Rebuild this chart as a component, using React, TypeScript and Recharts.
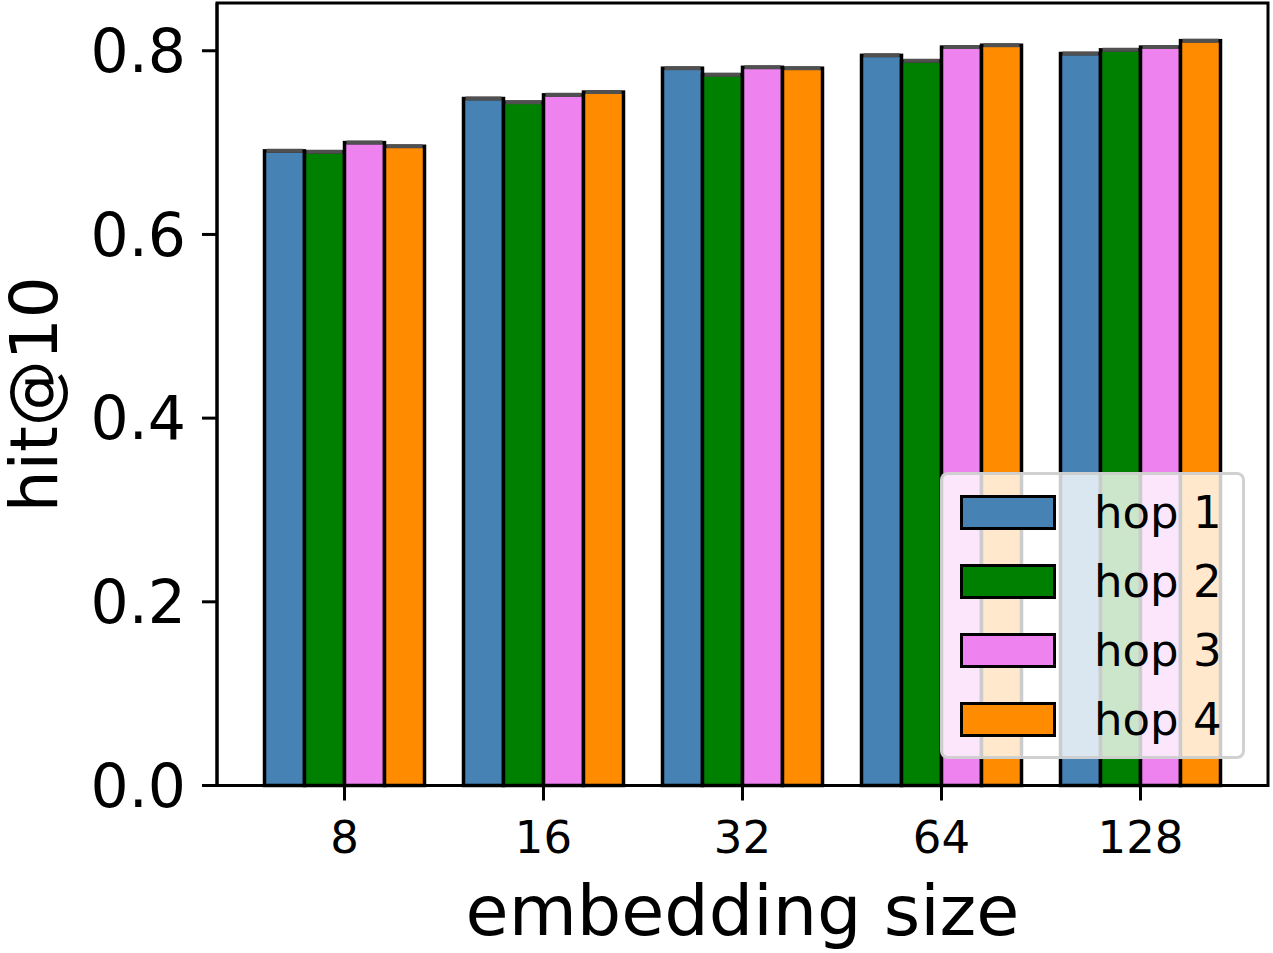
import React from 'react';
import * as Recharts from 'recharts';
import { BarChart, Bar, XAxis, YAxis } from 'recharts';

const sizes = ['8', '16', '32', '64', '128'];
const hop1 = [0.691, 0.748, 0.781, 0.795, 0.797];
const hop2 = [0.690, 0.744, 0.774, 0.789, 0.801];
const hop3 = [0.700, 0.752, 0.782, 0.804, 0.804];
const hop4 = [0.696, 0.755, 0.781, 0.806, 0.811];
const yTicks = [0, 0.2, 0.4, 0.6, 0.8];

const series = [
  { key: 'hop1', name: 'hop 1', color: '#4682B4' },
  { key: 'hop2', name: 'hop 2', color: '#008000' },
  { key: 'hop3', name: 'hop 3', color: '#EE82EE' },
  { key: 'hop4', name: 'hop 4', color: '#FF8C00' },
];

const data = sizes.map((size, i) => ({
  size,
  hop1: hop1[i],
  hop2: hop2[i],
  hop3: hop3[i],
  hop4: hop4[i],
}));

const FONT = '"DejaVu Sans", sans-serif';

const usePlotArea: any = (Recharts as any).usePlotArea;

// box around the plotting area
const Frame = () => {
  const p = usePlotArea ? usePlotArea() : null;
  if (!p) return null;
  return <rect x={p.x} y={p.y} width={p.width} height={p.height} fill="none" stroke="#000" strokeWidth={3} />;
};

// bar with black edge and a grey error cap sitting on the top edge
const EdgedBar = (props: any) => {
  const { x, y, width, height, fill } = props;
  if (width == null || height == null) return null;
  return (
    <g>
      <rect x={x} y={y} width={width} height={height} fill={fill} stroke="#000" strokeWidth={3.5} />
      <line x1={x + 2} x2={x + width - 2} y1={y} y2={y} stroke="#505050" strokeWidth={4} />
    </g>
  );
};

const LegendBox = () => (
  <div
    style={{
      position: 'absolute',
      left: 940,
      top: 472,
      width: 305,
      height: 287,
      boxSizing: 'border-box',
      background: 'rgba(255,255,255,0.8)',
      border: '3px solid rgba(204,204,204,0.9)',
      borderRadius: 8,
      fontFamily: FONT,
      fontSize: 45,
      paddingTop: 3,
    }}
  >
    {series.map((s) => (
      <div key={s.key} style={{ display: 'flex', alignItems: 'center', height: 69 }}>
        <div
          style={{
            marginLeft: 17,
            width: 96,
            height: 35,
            boxSizing: 'border-box',
            background: s.color,
            border: '3.5px solid #000',
          }}
        />
        <span style={{ marginLeft: 38, lineHeight: 1, color: '#000' }}>{s.name}</span>
      </div>
    ))}
  </div>
);

export default function App() {
  return (
    <div style={{ position: 'absolute', left: 0, top: 0, width: 1273, height: 953, background: '#fff' }}>
      <BarChart
        width={1273}
        height={953}
        data={data}
        margin={{ top: 3, right: 5, left: 0, bottom: 0 }}
        barCategoryGap={19.5}
        barGap={0}
      >
        <XAxis
          dataKey="size"
          padding={{ left: 28, right: 28 }}
          height={167.5}
          stroke="#000"
          axisLine={{ stroke: '#000', strokeWidth: 3 }}
          tickLine={{ stroke: '#000', strokeWidth: 3 }}
          tickSize={15}
          tickMargin={21}
          tick={{ fill: '#000', fontSize: 45, fontFamily: FONT }}
          label={({ viewBox }: any) => (
            <text
              x={viewBox.x + viewBox.width / 2}
              y={935}
              textAnchor="middle"
              fontSize={70}
              fontFamily={FONT}
              fill="#000"
            >
              embedding size
            </text>
          )}
        />
        <YAxis
          domain={[0, 0.852]}
          ticks={yTicks}
          width={217}
          axisLine={{ stroke: '#000', strokeWidth: 3 }}
          tickLine={{ stroke: '#000', strokeWidth: 3 }}
          tickSize={15}
          tickMargin={16}
          tickFormatter={(v: number) => v.toFixed(1)}
          tick={{ fill: '#000', fontSize: 60, fontFamily: FONT }}
          label={({ viewBox }: any) => (
            <text
              x={57}
              y={viewBox.y + viewBox.height / 2}
              transform={`rotate(-90, 57, ${viewBox.y + viewBox.height / 2})`}
              textAnchor="middle"
              fontSize={66}
              fontFamily={FONT}
              fill="#000"
            >
              hit@10
            </text>
          )}
        />
        {series.map((s) => (
          <Bar
            key={s.key}
            dataKey={s.key}
            name={s.name}
            fill={s.color}
            shape={EdgedBar}
            isAnimationActive={false}
          />
        ))}
        <Frame />
      </BarChart>
      <LegendBox />
    </div>
  );
}
